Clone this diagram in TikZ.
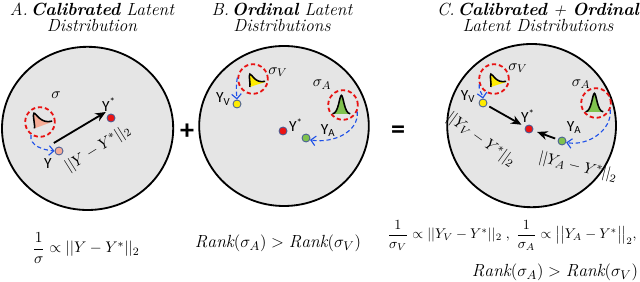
\documentclass[tikz,border=0pt]{standalone}
\usepackage{fontspec}
\usepackage{amsmath}
\newfontfamily\labelfont{Carlito}
\usetikzlibrary{arrows.meta}

\definecolor{BallGray}{RGB}{229,229,229}
\definecolor{RingRed}{RGB}{232,18,18}
\definecolor{GuideBlue}{RGB}{30,80,232}
\definecolor{BellPeach}{RGB}{246,172,150}
\definecolor{BellYellow}{RGB}{255,236,0}
\definecolor{BellGreen}{RGB}{128,194,78}
\definecolor{RimBlue}{RGB}{70,92,150}
\definecolor{StarRed}{RGB}{236,20,20}

\tikzset{
  ball/.style={draw=black,line width=1.3pt,fill=BallGray},
  ring/.style={circle,draw=RingRed,line width=1.3pt,dash pattern=on 3pt off 2pt,minimum size=0.74cm,inner sep=0pt},
  dot/.style={circle,draw=RimBlue,line width=0.6pt,minimum size=0.2cm,inner sep=0pt},
  guide/.style={draw=GuideBlue,line width=0.8pt,dash pattern=on 3pt off 2pt,-{Straight Barb[length=1.2mm]}},
  pull/.style={line width=1.3pt,-{Stealth[length=2.6mm,width=2.2mm]},shorten <=2pt,shorten >=3pt},
  ptlabel/.style={font=\labelfont\fontsize{11}{12}\selectfont,inner sep=1pt},
  mathlabel/.style={font=\fontsize{11}{13}\selectfont,inner sep=1pt},
  title/.style={align=center,font=\fontsize{12.5}{11}\selectfont\itshape},
  opsign/.style={font=\labelfont\bfseries\fontsize{20}{20}\selectfont},
  skewbell/.pic={
    \fill[#1] (0,0) .. controls (0.05,0.06) and (0.07,0.36) .. (0.12,0.36) .. controls (0.17,0.36) and (0.18,0.04) .. (0.48,0.02) -- (0.48,0) -- cycle;
    \draw[line width=1.1pt] (0,0) .. controls (0.05,0.06) and (0.07,0.36) .. (0.12,0.36) .. controls (0.17,0.36) and (0.18,0.04) .. (0.48,0.02);
  },
  peakbell/.pic={
    \fill[#1] (-0.22,0) .. controls (-0.07,0.01) and (-0.05,0.46) .. (0,0.46) .. controls (0.05,0.46) and (0.07,0.01) .. (0.22,0) -- cycle;
    \draw[line width=1.1pt] (-0.22,0) .. controls (-0.07,0.01) and (-0.05,0.46) .. (0,0.46) .. controls (0.05,0.46) and (0.07,0.01) .. (0.22,0);
  },
}

\begin{document}
\begin{tikzpicture}
                \useasboundingbox (0,0) rectangle (16,-7.05);

                \node[title] (TitleA) at (2.3,-0.43) {A.\,\textbf{Calibrated} Latent\\Distribution};
                \node[title] (TitleB) at (7.05,-0.43) {B.\,\textbf{Ordinal} Latent\\Distributions};
                \node[title] (TitleC) at (13.45,-0.43) {C.\,\textbf{Calibrated} + \textbf{Ordinal}\\Latent Distributions};

                \draw[ball] (2.19,-3.21) ellipse[x radius=2.14cm,y radius=2.04cm];
                \draw[ball] (7.1,-3.15) ellipse[x radius=2.12cm,y radius=2.0cm];
                \draw[ball] (13.29,-3.14) ellipse[x radius=2.11cm,y radius=2.04cm];

                \node[opsign] (PlusSign) at (4.675,-3.3) {+};
                \node[opsign] (EqualSign) at (9.95,-3.3) {=};

                \node[ring] (RingA) at (1.0,-3.05) {};
                \pic[rotate=20] at ([shift={(-0.14,-0.16)}]RingA.center) {skewbell=BellPeach};
                \node[mathlabel] (SigmaA) at (1.4,-2.375) {$\sigma$};
                \node[dot,fill=BellPeach] (DotY) at (1.475,-3.775) {};
                \node[dot,fill=StarRed] (DotStarA) at (2.775,-2.95) {};
                \node[ptlabel] (LabelY) at (1.2,-4.1) {Y};
                \node[ptlabel] (LabelStarA) at (2.725,-2.62) {Y\textsuperscript{*}};
                \draw[guide] (RingA.235) to[out=-100,in=175] (DotY.west);
                \draw[pull,shorten <=0pt,shorten >=0pt] ([shift={(-0.13,0.2)}]DotY.center) -- ([shift={(-0.13,0.15)}]DotStarA.center);
                \node[mathlabel,rotate=32] (DistA) at (2.45,-3.72) {$||Y-Y^*||_2$};

                \node[ring] (RingBV) at (6.325,-1.975) {};
                \pic[rotate=18,scale=0.85] at ([shift={(-0.08,-0.2)}]RingBV.center) {skewbell=BellYellow};
                \node[ring] (RingBA) at (8.575,-2.625) {};
                \pic at ([shift={(-0.04,-0.22)}]RingBA.center) {peakbell=BellGreen};
                \node[mathlabel] (SigmaBV) at (6.95,-1.8) {$\sigma_V$};
                \node[mathlabel] (SigmaBA) at (8.05,-2.12) {$\sigma_A$};
                \node[dot,fill=BellYellow] (DotBV) at (5.925,-2.6) {};
                \node[dot,fill=StarRed] (DotStarB) at (7.075,-3.275) {};
                \node[dot,fill=BellGreen] (DotBA) at (7.65,-3.45) {};
                \node[ptlabel] (LabelBV) at (5.58,-2.475) {Y\textsubscript{V}};
                \node[ptlabel] (LabelStarB) at (7.4,-3.13) {Y\textsuperscript{*}};
                \node[ptlabel] (LabelBA) at (8.2,-3.27) {Y\textsubscript{A}};
                \draw[guide] (RingBV.175) to[out=-100,in=95] (DotBV.north);
                \draw[guide] (RingBA.-25) to[out=-85,in=-10] (DotBA.-25);

                \node[ring] (RingCV) at (12.35,-1.975) {};
                \pic[rotate=18,scale=0.85] at ([shift={(-0.08,-0.2)}]RingCV.center) {skewbell=BellYellow};
                \node[ring] (RingCA) at (14.9,-2.575) {};
                \pic at ([shift={(-0.04,-0.22)}]RingCA.center) {peakbell=BellGreen};
                \node[mathlabel] (SigmaCV) at (12.95,-1.7) {$\sigma_V$};
                \node[mathlabel] (SigmaCA) at (14.525,-2.1) {$\sigma_A$};
                \node[dot,fill=BellYellow] (DotCV) at (12.075,-2.575) {};
                \node[dot,fill=StarRed] (DotStarC) at (13.225,-3.225) {};
                \node[dot,fill=BellGreen] (DotCA) at (14.05,-3.525) {};
                \node[ptlabel] (LabelCV) at (11.7,-2.42) {Y\textsubscript{V}};
                \node[ptlabel] (LabelStarC) at (13.2,-2.9) {Y\textsuperscript{*}};
                \node[ptlabel] (LabelCA) at (14.35,-3.18) {Y\textsubscript{A}};
                \draw[guide] (RingCV.200) to[out=-100,in=100] (DotCV.north);
                \draw[guide] (RingCA.-25) to[out=-85,in=-10] (DotCA.-20);
                \draw[pull] (DotCV) -- (DotStarC);
                \draw[pull] (DotCA) -- (DotStarC);
                \node[mathlabel,rotate=-36] (DistCV) at (12.02,-3.5) {$||Y_V-Y^*||_2$};
                \node[mathlabel,rotate=-14] (DistCA) at (14.45,-4.18) {$||Y_A-Y^*||_2$};

                \node[mathlabel] (RuleA) at (2.15,-6.2) {$\dfrac{1}{\sigma}\propto ||Y-Y^*||_2$};
                \node[mathlabel,font=\fontsize{12.5}{14}\selectfont] (RuleB) at (6.95,-6.075) {$\mathit{Rank}(\sigma_A)>\mathit{Rank}(\sigma_V)$};
                \node[mathlabel,font=\fontsize{10}{12}\selectfont] (RuleC) at (12.8,-5.88) {$\dfrac{1}{\sigma_V}\propto ||Y_V-Y^*||_2\;,\;\dfrac{1}{\sigma_A}\propto \big|\big|Y_A-Y^*\big|\big|_2,$};
                \node[mathlabel,font=\fontsize{12.5}{14}\selectfont] (RankC) at (13.875,-6.8) {$\mathit{Rank}(\sigma_A)>\mathit{Rank}(\sigma_V)$};
\end{tikzpicture}
\end{document}
